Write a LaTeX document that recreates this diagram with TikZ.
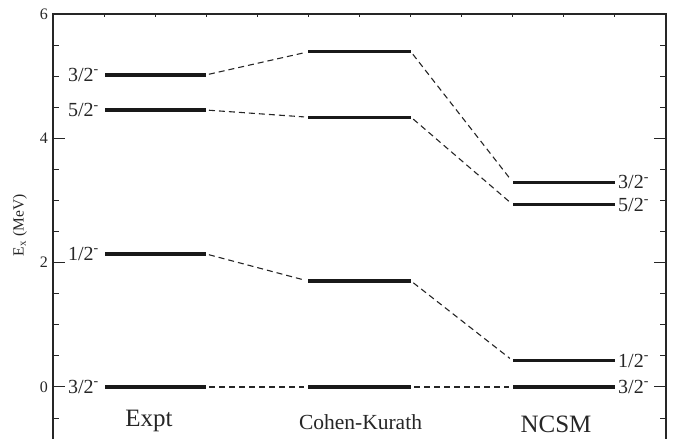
\documentclass[tikz,border=0pt]{standalone}
\usepackage{fontspec}
\setmainfont{Liberation Serif}
\begin{document}
\begin{tikzpicture}[x=1pt,y=1pt,
  frame/.style={line width=1.2pt, draw=black!85},
  tk/.style={line width=1pt, draw=black!85},
  level/.style={line width=3.2pt, draw=black!90},
  conn/.style={line width=1.1pt, draw=black!85, dash pattern=on 6pt off 4pt, shorten <=3pt, shorten >=4pt},
  lvlab/.style={inner sep=0pt, font=\fontsize{20}{24}\selectfont, text=black!85},
  ticklab/.style={inner sep=0pt, font=\fontsize{16}{19}\selectfont, text=black!85},
  colab/.style={inner sep=0pt, anchor=base, text=black!85},
]
\useasboundingbox (0,0) rectangle (683,439);
\draw[frame] (53,0) -- (53,425) -- (666,425) -- (666,0);
\foreach \k in {1,...,11} \draw[tk] (53+51.08*\k,425) -- ++(0,-3);
\begin{scope}[shift={(0,52)}, y=62.17pt]
  % ticks
  \foreach \e in {-0.5,0.5,1,1.5,2.5,3,3.5,4.5,5,5.5} {
    \draw[tk] (53,\e) -- ++(6pt,0);
    \draw[tk] (666,\e) -- ++(-6pt,0);
  }
  \foreach \e in {0,2,4} {
    \draw[tk] (53,\e) -- ++(12pt,0);
    \draw[tk] (666,\e) -- ++(-12pt,0);
  }
  \foreach \e in {0,2,4,6} \node[ticklab, anchor=east] (t\e) at (48,\e) {\e};
  \node[ticklab, font=\fontsize{15.5}{18}\selectfont, rotate=90] (ylab) at (20,2.6) {E\textsubscript{x} (MeV)};
  % Expt levels
  \coordinate (a1L) at (105,5.02); \coordinate (a1R) at (206,5.02);
  \coordinate (a2L) at (105,4.455); \coordinate (a2R) at (206,4.455);
  \coordinate (a3L) at (105,2.14); \coordinate (a3R) at (206,2.14);
  \coordinate (a4L) at (105,0); \coordinate (a4R) at (206,0);
  % Cohen-Kurath levels
  \coordinate (b1L) at (308,5.39); \coordinate (b1R) at (411,5.39);
  \coordinate (b2L) at (308,4.34); \coordinate (b2R) at (411,4.34);
  \coordinate (b3L) at (308,1.705); \coordinate (b3R) at (411,1.705);
  \coordinate (b4L) at (308,0); \coordinate (b4R) at (411,0);
  % NCSM levels
  \coordinate (c1L) at (513,3.29); \coordinate (c1R) at (615,3.29);
  \coordinate (c2L) at (513,2.93); \coordinate (c2R) at (615,2.93);
  \coordinate (c3L) at (513,0.42); \coordinate (c3R) at (615,0.42);
  \coordinate (c4L) at (513,0); \coordinate (c4R) at (615,0);
  \foreach \n in {a1,a2,a3,a4,b1,b2,b3,b4,c1,c2,c3,c4} \draw[level] (\n L) -- (\n R);
  % connectors
  \draw[conn] (a1R) -- (b1L);
  \draw[conn] (a2R) -- (b2L);
  \draw[conn] (a3R) -- (b3L);
  \draw[conn] (a4R) -- (b4L);
  \draw[conn] (b1R) -- (c1L);
  \draw[conn] (b2R) -- (c2L);
  \draw[conn] (b3R) -- (c3L);
  \draw[conn] (b4R) -- (c4L);
  % level labels
  \node[lvlab, anchor=east] (la1) at (99,5.02) {3/2\textsuperscript{-}};
  \node[lvlab, anchor=east] (la2) at (99,4.455) {5/2\textsuperscript{-}};
  \node[lvlab, anchor=east] (la3) at (99,2.14) {1/2\textsuperscript{-}};
  \node[lvlab, anchor=east] (la4) at (99,0) {3/2\textsuperscript{-}};
  \node[lvlab, anchor=west] (lc1) at (618,3.29) {3/2\textsuperscript{-}};
  \node[lvlab, anchor=west] (lc2) at (618,2.93) {5/2\textsuperscript{-}};
  \node[lvlab, anchor=west] (lc3) at (618,0.42) {1/2\textsuperscript{-}};
  \node[lvlab, anchor=west] (lc4) at (618,0) {3/2\textsuperscript{-}};
\end{scope}
\node[colab, font=\fontsize{25}{30}\selectfont] (expt) at (149,12) {Expt};
\node[colab, font=\fontsize{21.5}{26}\selectfont] (ck) at (360.5,9) {Cohen-Kurath};
\node[colab, font=\fontsize{25}{30}\selectfont] (ncsm) at (556,6) {NCSM};
\end{tikzpicture}
\end{document}
